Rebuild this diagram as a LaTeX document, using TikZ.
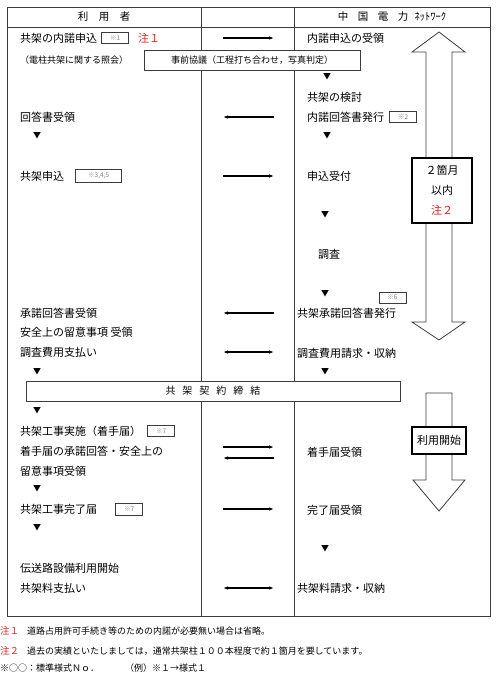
\documentclass[tikz,border=0pt]{standalone}
\usepackage{fontspec}
\setmainfont{Noto Sans CJK JP}
\usetikzlibrary{arrows.meta,positioning}
\definecolor{notered}{RGB}{225,35,35}
\definecolor{framegray}{RGB}{60,60,60}

\begin{document}
\begin{tikzpicture}[x=1pt, y=-1pt, node distance=4pt, >={Latex[length=5pt,width=3.5pt]},
  line/.style={line width=1.2pt},
  item/.style={anchor=west, inner sep=0pt, font=\fontsize{11}{13}\selectfont},
  small/.style={anchor=west, inner sep=0pt, font=\fontsize{9}{11}\selectfont},
  note/.style={anchor=west, inner sep=0pt, font=\fontsize{9}{11}\selectfont},
  nextmark/.style={inner sep=0pt, font=\fontsize{8}{9}\selectfont},
  form/.style={draw=framegray, line width=0.6pt, inner sep=0pt, minimum width=27pt, minimum height=11pt, text=gray, font=\fontsize{6.5}{7}\selectfont},
  band/.style={draw=framegray, fill=white, line width=0.8pt, inner sep=0pt, minimum height=20pt},
  period/.style={draw, line width=1.8pt, fill=white, align=center, inner sep=0pt, font=\fontsize{11}{20}\selectfont},
  bigarrow/.style={draw=framegray, fill=white, line width=0.8pt}]
\useasboundingbox (0,0) rectangle (500,678);
% table
\draw[framegray, line width=0.8pt] (7,7) rectangle (490,616);
\draw[framegray, line width=0.8pt] (7,27) -- (490,27);
\draw[framegray, line width=0.8pt] (201,7) -- (201,616);
\draw[framegray, line width=0.8pt] (294,7) -- (294,616);
\node[font=\fontsize{10.5}{12}\selectfont] (userhead) at (104,17) {利\hspace{1em}用\hspace{1em}者};
\node[font=\fontsize{10.5}{12}\selectfont] (cepnhead) at (392,17) {中\hspace{.9em}国\hspace{.9em}電\hspace{.9em}力\hspace{.6em}ﾈｯﾄﾜｰｸ};
% user side
\node[item] (apply) at (20,38) {共架の内諾申込};
\node[form,right=4pt of apply] (f1) {※1};
\node[item,text=notered,right=9pt of f1] (n1) {注１};
\node[small] (query) at (20,60) {（電柱共架に関する照会）};
\node[item] (reply) at (20,117) {回答書受領};
\node[item] (request) at (20,176) {共架申込};
\node[form,right=11pt of request,minimum width=46pt,minimum height=13pt] (f345) {※3,4,5};
\node[item] (consent) at (20,313) {承諾回答書受領};
\node[item] (safety) at (20,332) {安全上の留意事項 受領};
\node[item] (pay) at (20,352) {調査費用支払い};
\node[item] (work) at (20,431) {共架工事実施（着手届）};
\node[form,right=6pt of work] (f7a) {※7};
\node[item] (workok) at (20,451) {着手届の承諾回答・安全上の};
\node[item] (workok2) at (20,471) {留意事項受領};
\node[item] (done) at (20,509) {共架工事完了届};
\node[form,right=18pt of done,minimum height=12pt] (f7b) {※7};
\node[item] (use) at (20,568) {伝送路設備利用開始};
\node[item] (fee) at (20,588) {共架料支払い};
% company side
\node[item] (accept) at (307,38) {内諾申込の受領};
\node[item] (study) at (307,97) {共架の検討};
\node[item] (issue) at (307,117) {内諾回答書発行};
\node[form,right=5pt of issue] (f2) {※2};
\node[item] (receipt) at (307,176) {申込受付};
\node[item] (survey) at (318,254) {調査};
\node[form] (f6) at (392.5,297.5) {※6};
\node[item] (consentout) at (297,313) {共架承諾回答書発行};
\node[item] (bill) at (297,353) {調査費用請求・収納};
\node[item] (workin) at (307,452) {着手届受領};
\node[item] (donein) at (307,510) {完了届受領};
\node[item] (feebill) at (297,588) {共架料請求・収納};
\foreach \x/\y [count=\i] in {327/77, 327/136, 37/136, 325/215, 325/294, 37/372, 325/372, 37/411, 37/489, 37/528, 325/549}
  \node[nextmark] (v\i) at (\x,\y) {▼};
% bands over the columns
\node[band, minimum width=216pt, font=\fontsize{9}{11}\selectfont] (prior) at (252,60.5) {事前協議（工程打ち合わせ，写真判定）};
\node[band, minimum width=374pt, font=\fontsize{10}{12}\selectfont] (contract) at (213,391) {共\hspace{.7em}架\hspace{.7em}契\hspace{.7em}約\hspace{.7em}締\hspace{.7em}結};
% exchanges
\foreach \y/\s [count=\i] in {38/->, 117/<-, 176/->, 313/<-, 352/<->, 447/->, 458/<-, 509/->, 588/<->} {
  \coordinate (m\i w) at (223,\y);
  \coordinate (m\i e) at (274,\y);
  \draw[line,\s] (m\i w) -- (m\i e);
}
% period arrows
\draw[bigarrow] (426,158) -- (426,52) -- (412,52) -- (439,32) -- (465,52) -- (452,52) -- (452,158);
\draw[bigarrow] (426,223) -- (426,322) -- (412,322) -- (439,340) -- (465,322) -- (452,322) -- (452,223);
\draw[bigarrow] (426,393) -- (452,393) -- (452,480) -- (465,480) -- (439,511) -- (413,480) -- (426,480) -- cycle;
\node[period, minimum width=60pt, minimum height=65pt] (term) at (442,190.5) {２箇月\\以内\\\textcolor{notered}{注２}};
\node[period, minimum width=54pt, minimum height=27pt] (start) at (439,440.5) {利用開始};
% notes
\node[note,text=notered,font=\fontsize{9.5}{11}\selectfont] (note1) at (0,631) {注１};
\node[note] (note1t) at (27,631) {道路占用許可手続き等のための内諾が必要無い場合は省略。};
\node[note,text=notered,font=\fontsize{9.5}{11}\selectfont] (note2) at (0,651) {注２};
\node[note] (note2t) at (27,651) {過去の実績といたしましては，通常共架柱１００本程度で約１箇月を要しています。};
\node[note] (legend) at (0,668) {※○○：標準様式Ｎｏ．\hspace{26pt}（例）※１→様式１};
\end{tikzpicture}
\end{document}
